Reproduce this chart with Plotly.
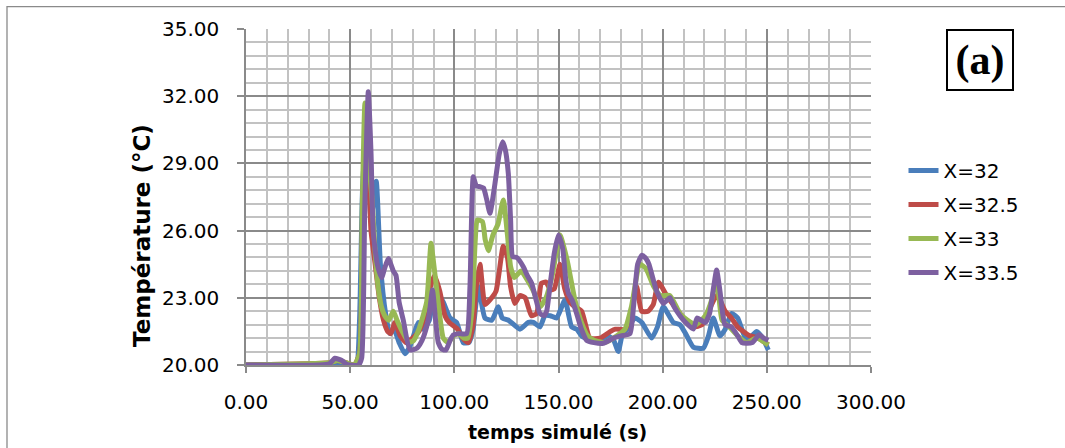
import plotly.graph_objects as go

# Température relevée à quatre positions X au cours du temps simulé
t_x32 = [0, 30, 40, 45, 50, 53, 54.5, 56, 58, 60, 62.5, 64.5, 67, 69, 71, 73.5, 76.3, 78.5, 80.4,
         82.7, 85, 88, 90, 92, 94.7, 97.9, 101.1, 104.3, 107, 109, 111.5, 114.7, 118, 121.1, 123,
         126, 131.5, 135.5, 138, 141.1, 143.5, 146, 149.1, 153.1, 156.3, 158.7, 161.1, 165, 170,
         174, 176.5, 178.7, 180.5, 183, 186.7, 190, 194.7, 197.5, 200.3, 205.1, 208.3, 211, 214.7,
         219.5, 222, 224.3, 227.5, 230, 233.1, 236, 240.3, 245.1, 248, 250.7]
T_x32 = [20.0, 20.0, 20.0, 20.05, 20.0, 20.0, 22.0, 28.0, 30.5, 26.5, 28.2, 24.5, 22.3, 21.4, 21.6,
         21.0, 20.5, 20.8, 21.3, 21.9, 21.6, 22.0, 23.0, 23.2, 22.8, 22.1, 21.9, 21.0, 21.0, 21.6,
         23.5, 22.1, 22.0, 22.6, 22.1, 22.0, 21.6, 21.9, 21.9, 21.7, 22.2, 22.2, 22.1, 22.9, 21.7,
         21.6, 21.3, 21.1, 21.1, 21.3, 21.1, 20.6, 21.3, 21.6, 22.1, 21.9, 21.2, 21.7, 22.6, 21.9,
         21.8, 21.4, 20.8, 20.75, 21.3, 22.1, 21.3, 21.6, 22.3, 22.1, 21.1, 21.5, 21.2, 20.67]

t_x325 = [0, 40, 44, 48, 52, 54.5, 56, 57.8, 60, 62, 64, 66, 68, 69.5, 71.5, 74, 77, 80, 83, 86,
          88.5, 90.5, 93, 95.5, 97.5, 101.5, 104, 106.7, 109, 110.5, 112.3, 114.7, 117, 120, 123.5,
          125.5, 127, 129, 131.5, 134, 137, 139.5, 141.8, 144, 146.2, 148, 150.7, 153, 155.5,
          157.9, 161.1, 165.1, 170, 175, 177.3, 182, 185, 187.5, 189.9, 193, 195.5, 198, 201.9,
          205, 208.3, 211, 214.7, 219, 222, 225.9, 228, 230, 233, 236, 241.9, 246, 250.7]
T_x325 = [20.0, 20.1, 20.2, 20.1, 20.0, 20.5, 27.0, 31.0, 26.0, 24.5, 23.0, 22.0, 21.5, 21.4, 21.9,
          21.3, 21.0, 21.2, 21.5, 22.2, 23.5, 24.0, 23.3, 22.2, 21.9, 21.6, 21.2, 21.0, 21.8, 23.5,
          24.5, 22.7, 22.9, 23.3, 25.3, 24.8, 23.5, 22.75, 23.1, 23.0, 22.2, 22.3, 23.65, 23.7,
          23.35, 23.4, 24.5, 23.4, 22.8, 22.6, 22.4, 21.2, 21.2, 21.5, 21.6, 21.6, 22.4, 23.5, 22.4,
          22.4, 22.7, 23.7, 23.1, 22.7, 22.3, 22.0, 21.7, 21.8, 22.4, 23.1, 22.8, 22.4, 22.1, 21.7,
          21.3, 21.2, 20.9]

t_x33 = [0, 40, 44, 48, 52, 54.5, 55.8, 57.1, 59, 60.5, 62, 63.4, 65, 66.6, 68.5, 70.7, 72.5, 75,
         78.2, 80.5, 83, 86.7, 88.8, 90, 91.5, 93, 94.7, 97, 99.5, 102, 104.5, 106.5, 108.5, 110,
         111, 113.5, 114.8, 116.3, 118.5, 121, 123.5, 125.5, 127, 128.8, 132, 135, 138, 141.1, 144,
         147, 150.7, 154.1, 157.9, 161, 164, 167.1, 172, 178, 181.9, 185, 189.1, 192, 195.7, 199,
         203.5, 208.3, 212, 216, 220.5, 223.5, 225.9, 228.5, 232, 236, 240.3, 245, 250.7]
T_x33 = [20.0, 20.1, 20.2, 20.1, 20.0, 20.5, 27.0, 31.7, 29.0, 27.4, 25.0, 23.5, 22.6, 22.2, 22.0,
         22.4, 22.0, 21.5, 21.0, 21.1, 21.6, 22.8, 25.43, 24.6, 23.4, 22.2, 21.2, 21.0, 21.3, 21.4,
         21.2, 21.2, 22.5, 25.5, 26.47, 26.4, 25.6, 25.1, 25.8, 26.3, 27.37, 25.8, 24.4, 23.9, 24.2,
         23.8, 23.3, 22.6, 23.0, 24.0, 25.8, 24.7, 22.9, 21.9, 21.3, 21.1, 21.0, 21.3, 21.6, 22.6,
         24.5, 24.3, 23.5, 23.1, 23.1, 22.3, 22.0, 21.8, 22.2, 22.9, 23.9, 22.0, 21.7, 21.3, 21.0,
         21.2, 20.9]

t_x335 = [0, 35, 40, 42.7, 46, 48, 50, 54, 55.5, 57, 58.7, 60, 61.1, 63, 65.1, 66.5, 68.3, 70.7,
          72, 73.5, 75.5, 78.7, 82, 84.5, 86.7, 88, 89.5, 91, 92.3, 94, 96, 98, 99.5, 102, 105.9,
          107.5, 109.1, 110.5, 112.3, 114, 115.5, 117.1, 119.5, 121.5, 123.2, 124.5, 125.9, 127,
          128, 130, 133.1, 135, 137.1, 139, 141.1, 143, 144.3, 146, 148, 150, 152, 153.5, 154.8,
          156.5, 158.7, 161, 163.5, 167, 171.5, 176.4, 180, 184.3, 186, 188, 190, 192, 193.4,
          195.5, 197.1, 200.3, 203.5, 205.5, 208.3, 211, 214.7, 216.5, 218.5, 220.5, 222.5,
          224.5, 225.9, 227.5, 229.9, 233, 236, 238, 240.3, 243, 246.3, 248.5, 250.7]
T_x335 = [20.0, 20.0, 20.05, 20.3, 20.2, 20.05, 20.0, 20.0, 20.3, 27.0, 32.2, 29.5, 25.9, 24.5,
          23.9, 24.3, 24.76, 24.2, 24.0, 22.8, 22.0, 20.67, 20.75, 21.1, 21.7, 22.3, 23.35, 22.0,
          21.0, 20.7, 20.67, 21.1, 21.34, 21.4, 21.4, 23.5, 28.4, 28.0, 27.96, 27.9, 27.4, 26.77,
          28.1, 29.4, 29.97, 29.6, 28.56, 26.5, 24.84, 24.8, 24.39, 24.0, 23.65, 23.0, 22.3, 22.2,
          22.4, 23.6, 25.0, 25.8, 25.2, 23.8, 23.2, 22.9, 22.3, 21.6, 21.1, 21.0, 20.97, 21.2, 21.3,
          21.4, 22.6, 24.5, 24.9, 24.75, 24.5, 23.8, 23.3, 22.75, 23.0, 22.6, 22.2, 21.9, 21.6,
          22.1, 22.0, 21.9, 22.3, 23.5, 24.24, 23.3, 21.8, 21.7, 21.3, 21.0, 20.97, 21.0, 21.35,
          21.2, 21.1]

series_names = ["X=32", "X=32.5", "X=33", "X=33.5"]
series_colors = ["#4a7ebb", "#be4b48", "#98b954", "#7d60a0"]
series_t = [t_x32, t_x325, t_x33, t_x335]
series_T = [T_x32, T_x325, T_x33, T_x335]

x_ticks = [0, 50, 100, 150, 200, 250, 300]
y_ticks = [20, 23, 26, 29, 32, 35]

FONT = "DejaVu Sans"
GRID_MAJOR = "#8a8a8a"
GRID_MINOR = "#c2c2c2"

fig = go.Figure()
for i, (name, color, tt, TT) in enumerate(zip(series_names, series_colors, series_t, series_T)):
    fig.add_trace(go.Scatter(
        x=tt, y=TT, name=name, mode="lines",
        line=dict(color=color, width=5, shape="spline", smoothing=0.5),
        legendgroup=f"g{i}",
    ))

fig.update_layout(
    width=1065, height=448,
    margin=dict(l=246, r=194, t=29, b=83),
    paper_bgcolor="white", plot_bgcolor="white",
    font=dict(family=FONT, color="#000000", size=20),
    showlegend=True,
    legend=dict(
        x=1.052, xanchor="left", y=0.427, yanchor="middle",
        font=dict(family=FONT, size=20, color="#000000"),
        bgcolor="rgba(0,0,0,0)", tracegroupgap=5,
    ),
    xaxis=dict(
        range=[0, 300], tickvals=x_ticks, tickformat=".2f",
        showgrid=True, gridcolor=GRID_MAJOR, gridwidth=1.5,
        minor=dict(dtick=10, showgrid=True, gridcolor=GRID_MINOR, gridwidth=1.5,
                   ticks=""),
        showline=True, linecolor=GRID_MAJOR, linewidth=1.5,
        ticks="outside", ticklen=6, tickcolor=GRID_MAJOR, tickwidth=1.5,
        ticklabelstandoff=12, zeroline=False,
        tickfont=dict(family=FONT, size=20),
    ),
    yaxis=dict(
        range=[20, 35], tickvals=y_ticks, tickformat=".2f",
        showgrid=True, gridcolor=GRID_MAJOR, gridwidth=1.5,
        minor=dict(dtick=0.6, tick0=20, showgrid=True, gridcolor=GRID_MINOR, gridwidth=1.5,
                   ticks=""),
        showline=True, linecolor=GRID_MAJOR, linewidth=1.5,
        ticks="outside", ticklen=7, tickcolor=GRID_MAJOR, tickwidth=1.5,
        ticklabelstandoff=14, zeroline=False,
        tickfont=dict(family=FONT, size=20),
    ),
    shapes=[
        # cadre extérieur du graphique
        dict(type="rect", xref="paper", yref="paper",
             x0=-0.3824, x1=1.35, y0=-0.3, y1=1.0664,
             line=dict(color="#8a8a8a", width=1.3), fillcolor="rgba(0,0,0,0)", layer="below"),
    ],
    annotations=[
        dict(text="<b>Température (°C)</b>", textangle=-90, xref="paper", yref="paper",
             x=-0.1664, y=0.384, xanchor="center", yanchor="middle", showarrow=False,
             font=dict(family=FONT, size=23, color="#000000")),
        dict(text="<b>temps simulé (s)</b>", xref="paper", yref="paper",
             x=0.4976, y=-0.1994, xanchor="center", yanchor="middle", showarrow=False,
             font=dict(family=FONT, size=19, color="#000000")),
        dict(text="<b>(a)</b>", xref="paper", yref="paper",
             x=1.1744, y=0.9077, xanchor="center", yanchor="middle", showarrow=False,
             width=64, height=58, borderpad=0, bordercolor="#000000", borderwidth=2,
             font=dict(family="Liberation Serif", size=42, color="#000000")),
    ],
)

fig.write_html("out.html")
